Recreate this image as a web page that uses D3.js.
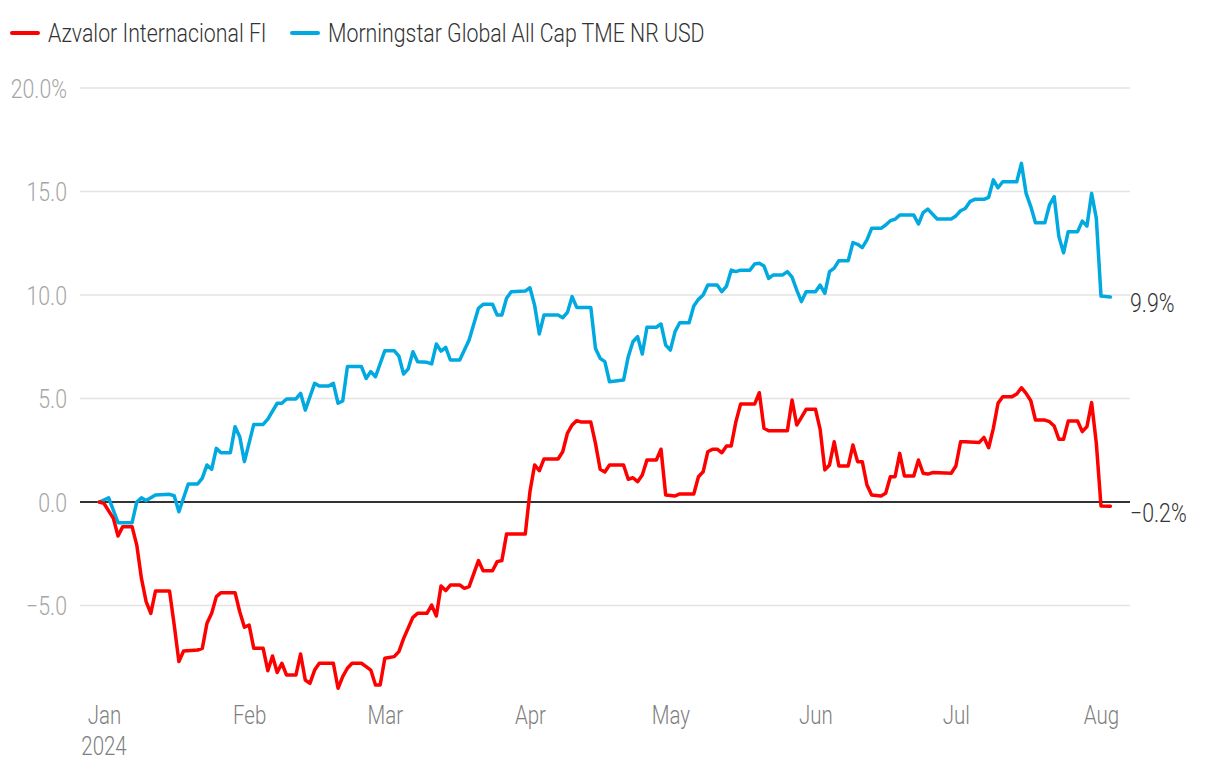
<!DOCTYPE html>
<html>
<head>
<meta charset="utf-8">
<script src="https://cdn.jsdelivr.net/npm/d3@7"></script>
<style>
  html, body { margin: 0; padding: 0; background: #fff; }
  svg { display: block; }
  text { font-family: Roboto, "Liberation Sans", sans-serif; font-weight: 300; }
</style>
</head>
<body>
<svg id="chart" width="1220" height="774"></svg>
<script>
// ---- data (days since 2024-01-01, cumulative return in %) ----
const seriesNames = ["Azvalor Internacional FI", "Morningstar Global All Cap TME NR USD"];
const seriesColors = ["#ff0000", "#00a9e0"];

const azvalorDays = [-1,0,2,3,4,6,7,8,9,10,11,14,15,16,17,20,21,22,23,24,25,28,29,30,31,32,34,35,36,37,38,39,41,42,43,44,45,46,49,50,51,52,53,55,56,57,58,59,60,62,63,64,66,67,69,70,71,72,73,74,76,77,78,80,81,83,84,85,86,90,91,92,93,94,97,98,99,100,101,102,104,105,106,107,108,111,112,113,114,115,116,118,119,120,122,123,126,127,128,129,130,131,132,133,134,135,136,139,140,141,142,146,147,148,149,150,152,153,154,155,156,157,159,160,161,162,163,164,166,167,168,169,170,171,173,174,175,176,177,181,182,183,184,187,188,189,190,191,192,194,195,196,197,198,199,201,202,203,204,205,206,208,209,210,211,212,213,215];
const azvalorValues = [0,-0.07,-0.79,-1.64,-1.19,-1.19,-2.08,-3.69,-4.81,-5.38,-4.3,-4.3,-5.94,-7.71,-7.2,-7.15,-7.07,-5.86,-5.38,-4.57,-4.38,-4.38,-5.3,-6.05,-5.94,-7.07,-7.07,-8.15,-7.44,-8.24,-7.79,-8.36,-8.36,-7.34,-8.6,-8.76,-8.12,-7.79,-7.79,-9.0,-8.44,-8.03,-7.79,-7.79,-7.95,-8.12,-8.84,-8.84,-7.55,-7.47,-7.23,-6.6,-5.57,-5.38,-5.38,-4.98,-5.51,-4.06,-4.28,-4.01,-4.01,-4.17,-4.09,-2.83,-3.32,-3.32,-2.88,-2.83,-1.55,-1.55,0.5,1.79,1.51,2.08,2.08,2.43,3.32,3.72,3.93,3.86,3.86,2.83,1.58,1.45,1.79,1.79,1.1,1.17,0.98,1.3,2.03,2.03,2.55,0.34,0.29,0.39,0.39,1.22,1.46,2.43,2.55,2.55,2.38,2.71,2.71,3.88,4.73,4.73,5.28,3.56,3.44,3.44,4.93,3.72,4.09,4.48,4.48,3.51,1.55,1.79,2.91,1.74,1.74,2.75,1.95,1.95,0.82,0.34,0.29,0.42,1.22,1.22,2.35,1.26,1.26,2.03,1.39,1.35,1.42,1.39,1.74,2.91,2.91,2.88,3.12,2.62,3.56,4.77,5.09,5.09,5.22,5.52,5.25,4.89,3.96,3.96,3.88,3.67,3.03,3.03,3.91,3.91,3.4,3.64,4.8,2.84,-0.19,-0.2];

const benchmarkDays = [-1,1,3,6,7,8,9,11,14,15,16,18,20,21,22,23,24,25,27,28,29,30,32,34,35,37,38,39,41,42,43,45,46,48,49,50,51,52,55,56,57,58,60,62,63,64,65,66,67,69,70,71,72,73,74,76,78,80,81,83,84,85,86,87,90,91,92,93,94,97,98,99,100,101,104,105,106,107,108,111,112,113,114,115,116,118,119,120,121,122,123,125,126,127,128,129,131,132,133,134,135,136,138,139,140,141,142,143,145,146,147,148,149,150,152,153,154,155,156,157,159,160,161,162,163,164,166,167,168,169,170,173,174,175,176,178,181,182,183,184,185,186,188,189,190,191,192,195,196,197,198,199,201,202,203,204,205,206,208,209,210,211,212,213,215];
const benchmarkValues = [0,0.2,-1.0,-1.0,0,0.2,0.07,0.34,0.37,0.3,-0.47,0.87,0.87,1.15,1.79,1.58,2.59,2.38,2.38,3.64,3.15,1.95,3.75,3.75,4.0,4.77,4.77,4.98,4.98,5.25,4.44,5.73,5.6,5.6,5.73,4.77,4.88,6.54,6.54,5.97,6.3,6.05,7.31,7.31,7.05,6.18,6.43,7.26,6.78,6.75,6.67,7.63,7.29,7.47,6.86,6.86,7.83,9.36,9.55,9.55,9.03,9.03,9.84,10.16,10.19,10.35,9.5,8.12,9.03,9.03,8.9,9.16,9.92,9.4,9.4,7.42,6.94,6.78,5.81,5.89,7.02,7.74,7.99,7.15,8.44,8.44,8.6,7.58,7.34,8.23,8.66,8.66,9.47,9.79,10.0,10.48,10.48,10.16,10.43,11.2,11.13,11.2,11.2,11.5,11.53,11.4,10.8,10.97,10.97,11.13,10.86,10.24,9.68,10.16,10.16,10.48,10.08,11.13,11.3,11.66,11.66,12.53,12.45,12.29,12.66,13.22,13.22,13.38,13.59,13.66,13.86,13.86,13.43,13.98,14.15,13.67,13.67,13.82,14.07,14.18,14.51,14.62,14.62,14.72,15.56,15.18,15.47,15.47,16.36,14.91,14.27,13.49,13.49,14.35,14.75,12.82,12.04,13.06,13.06,13.57,13.33,14.91,13.7,9.95,9.9];

const yTicks = [-5, 0, 5, 10, 15, 20];
const yTickLabels = ["\u22125.0", "0.0", "5.0", "10.0", "15.0", "20.0%"];
const monthTicks = ["2024-01-01","2024-02-01","2024-03-01","2024-04-01","2024-05-01","2024-06-01","2024-07-01","2024-08-01"];
const monthLabels = ["Jan","Feb","Mar","Apr","May","Jun","Jul","Aug"];
const yearLabel = "2024";
const endLabels = ["\u22120.2%", "9.9%"];

// ---- chart ----
const svg = d3.select("#chart");
const baseDate = new Date(2024, 0, 1);
const toDate = d => d3.timeDay.offset(baseDate, d);
const parse = d3.timeParse("%Y-%m-%d");

const plotLeft = 80, plotRight = 1130;
const x = d3.scaleTime().domain([parse("2024-01-01"), parse("2024-08-01")]).range([104, 1101]);
const y = d3.scaleLinear().domain([0, 20]).range([502, 88]);

const FS = 26;          // font size
const SX = 0.82;        // horizontal condensing
const condensed = sel => sel.attr("transform", `scale(${SX},1)`);

// gridlines
svg.append("g").selectAll("line").data(yTicks.filter(t => t !== 0)).join("line")
  .attr("x1", plotLeft).attr("x2", plotRight)
  .attr("y1", d => y(d)).attr("y2", d => y(d))
  .attr("stroke", "#e3e3e3").attr("stroke-width", 1.6);

// y axis labels
const yAxis = d3.axisLeft(y).tickValues(yTicks).tickSize(0).tickPadding(0)
  .tickFormat((d, i) => yTickLabels[i]);
const yg = svg.append("g").attr("transform", `translate(67,0)`).call(yAxis);
yg.select(".domain").remove();
yg.selectAll("text").attr("fill", "#a6a6a6").attr("font-size", FS)
  .attr("font-family", null).attr("x", 0).attr("dy", "0.36em").call(condensed);

// x axis labels
const xAxis = d3.axisBottom(x).tickValues(monthTicks.map(parse)).tickSize(0).tickPadding(0)
  .tickFormat((d, i) => monthLabels[i]);
const xg = svg.append("g").attr("transform", `translate(0,705)`).call(xAxis);
xg.select(".domain").remove();
xg.selectAll("text").attr("fill", "#7f7f7f").attr("font-size", 25).attr("font-family", null)
  .attr("y", 0).attr("dy", "0.75em").call(condensed);
svg.append("g").attr("transform", `translate(${x(parse(monthTicks[0]))},755)`)
  .append("text").attr("text-anchor", "middle").attr("fill", "#7f7f7f").attr("font-size", 25)
  .text(yearLabel).call(condensed);

// zero line
svg.append("line").attr("x1", plotLeft).attr("x2", plotRight)
  .attr("y1", y(0)).attr("y2", y(0)).attr("stroke", "#333").attr("stroke-width", 2);

// lines
const line = d3.line().x(d => x(toDate(d[0]))).y(d => y(d[1])).curve(d3.curveLinear);
const azData = d3.zip(azvalorDays, azvalorValues);
const bmData = d3.zip(benchmarkDays, benchmarkValues);

svg.append("path").datum(bmData).attr("d", line)
  .attr("fill", "none").attr("stroke", seriesColors[1]).attr("stroke-width", 3.5)
  .attr("stroke-linejoin", "round").attr("stroke-linecap", "round");
svg.append("path").datum(azData).attr("d", line)
  .attr("fill", "none").attr("stroke", seriesColors[0]).attr("stroke-width", 3.5)
  .attr("stroke-linejoin", "round").attr("stroke-linecap", "round");

// end labels
const lastAz = azData[azData.length - 1], lastBm = bmData[bmData.length - 1];
[[lastBm, endLabels[1]], [lastAz, endLabels[0]]].forEach(([pt, label]) => {
  svg.append("g").attr("transform", `translate(${plotRight},${y(pt[1]) + 6})`)
    .append("text").attr("dy", "0.36em").attr("fill", "#333").attr("font-size", FS)
    .text(label).call(condensed);
});

// legend
const legendX = [12, 292];
seriesNames.forEach((name, i) => {
  const g = svg.append("g").attr("transform", `translate(${legendX[i]},33)`);
  g.append("line").attr("x1", 0).attr("x2", 26).attr("y1", 0).attr("y2", 0)
    .attr("stroke", seriesColors[i]).attr("stroke-width", 4).attr("stroke-linecap", "round");
  g.append("g").attr("transform", "translate(36,0)")
    .append("text").attr("dy", "0.36em").attr("fill", "#333").attr("font-size", FS)
    .text(name).call(condensed);
});
</script>
</body>
</html>
